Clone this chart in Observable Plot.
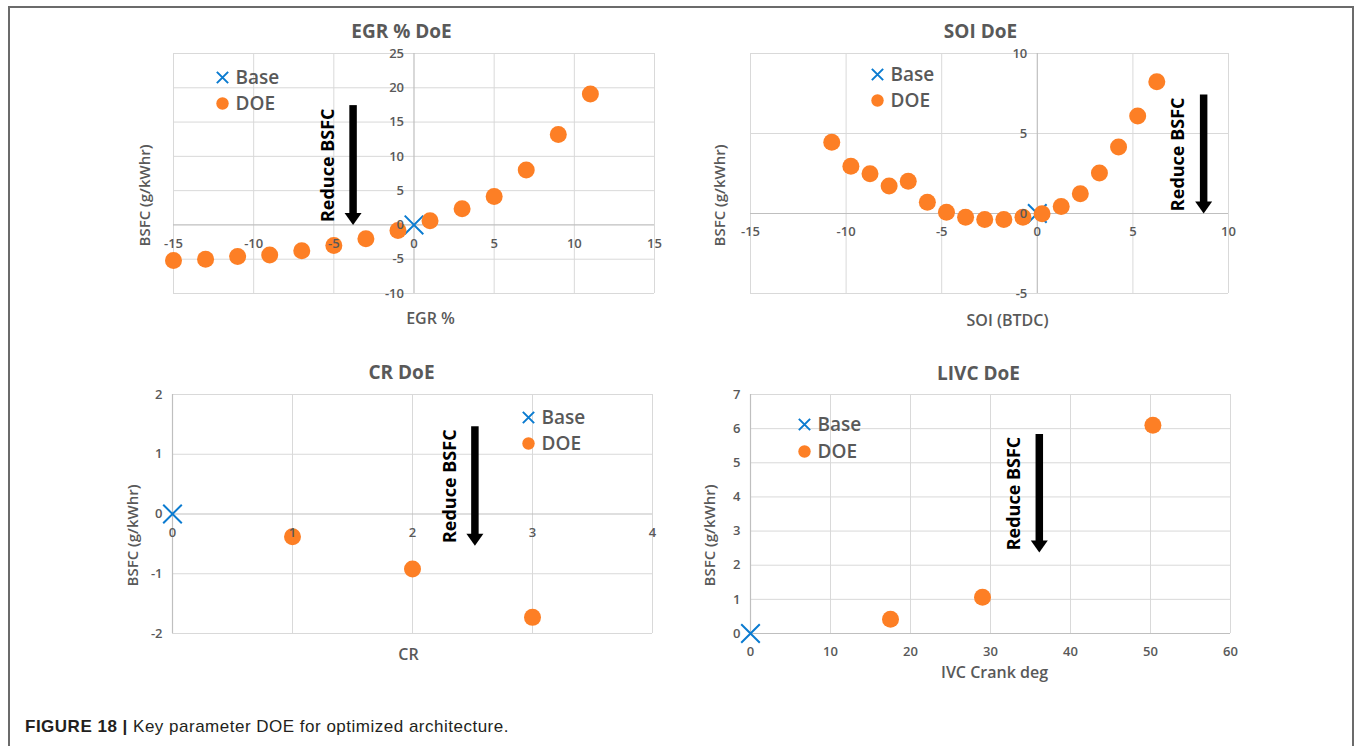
<!DOCTYPE html>
<html>
<head>
<meta charset="utf-8">
<script src="https://cdn.jsdelivr.net/npm/d3@7"></script>
<script src="https://cdn.jsdelivr.net/npm/@observablehq/plot@0.6"></script>
<style>
  html, body { margin: 0; padding: 0; background: #fff; }
  #wrap { position: relative; width: 1356px; height: 746px; overflow: hidden; background: #fff; }
  #frame { position: absolute; left: 8px; top: 6px; width: 1346px; height: 800px; box-sizing: border-box;
           border: 2px solid #6b6b6b; border-bottom: none; }
  .panel { position: absolute; }
  .panel svg { overflow: visible; }
  #caption { position: absolute; left: 25px; top: 717px; font-family: "Liberation Sans", Arial, sans-serif;
             font-size: 17px; line-height: 20px; color: #231f20; letter-spacing: 0.5px; white-space: nowrap; }
  #caption b { font-weight: bold; }
</style>
</head>
<body>
<div id="wrap">
  <div id="frame"></div>
  <div id="p1" class="panel" style="left:0px;top:0px"></div>
  <div id="p2" class="panel" style="left:678px;top:0px"></div>
  <div id="p3" class="panel" style="left:0px;top:340px"></div>
  <div id="p4" class="panel" style="left:678px;top:340px"></div>
  <div id="caption"><b>FIGURE 18 |</b> Key parameter DOE for optimized architecture.</div>
</div>
<script>
// ---------------- DATA ----------------
const egrTitle = "EGR % DoE", egrXLabel = "EGR %";
const egrX    = [-15, -13, -11, -9, -7, -5, -3, -1, 1, 3, 5, 7, 9, 11];
const egrBSFC = [-5.2, -5.0, -4.6, -4.4, -3.75, -3.0, -2.0, -0.8, 0.6, 2.35, 4.15, 8.0, 13.2, 19.1];
const egrXTicks = [-15, -10, -5, 0, 5, 10, 15];
const egrYTicks = [-10, -5, 0, 5, 10, 15, 20, 25];
const egrArrow = {x: -3.8, y1: 17.4, y2: 0};

const soiTitle = "SOI DoE", soiXLabel = "SOI (BTDC)";
const soiX    = [-10.75, -9.75, -8.75, -7.75, -6.75, -5.75, -4.75, -3.75, -2.75, -1.75, -0.75, 0.25, 1.25, 2.25, 3.25, 4.25, 5.25, 6.25];
const soiBSFC = [4.46, 2.95, 2.49, 1.72, 2.01, 0.71, 0.08, -0.23, -0.38, -0.38, -0.23, -0.02, 0.44, 1.23, 2.53, 4.16, 6.09, 8.24];
const soiXTicks = [-15, -10, -5, 0, 5, 10];
const soiYTicks = [-5, 0, 5, 10];
const soiArrow = {x: 8.7, y1: 7.4, y2: 0};

const crTitle = "CR DoE", crXLabel = "CR";
const crX    = [1, 2, 3];
const crBSFC = [-0.38, -0.92, -1.73];
const crXTicks = [0, 1, 2, 3, 4];
const crYTicks = [-2, -1, 0, 1, 2];
const crArrow = {x: 2.52, y1: 1.46, y2: -0.53};

const livcTitle = "LIVC DoE", livcXLabel = "IVC Crank deg";
const livcX    = [17.5, 29.0, 50.3];
const livcBSFC = [0.42, 1.06, 6.1];
const livcXTicks = [0, 10, 20, 30, 40, 50, 60];
const livcYTicks = [0, 1, 2, 3, 4, 5, 6, 7];
const livcArrow = {x: 36.1, y1: 5.83, y2: 2.37};

const baseX = [0], baseBSFC = [0];
const yLabel = "BSFC (g/kWhr)";
const arrowText = "Reduce BSFC";
const legendNames = ["Base", "DOE"];

// ---------------- STYLE ----------------
const GRID = "#d9d9d9", AXIS = "#bfbfbf", TXT = "#595959";
const ORANGE = "#fd7f25", BLUE = "#0b7bd0";
const FONT = '"Open Sans", sans-serif';

// custom downward arrow head (tip at origin)
const arrowHead = { draw(ctx) { ctx.moveTo(-8.5, -12); ctx.lineTo(8.5, -12); ctx.lineTo(0, 0); ctx.closePath(); } };

function chart(o) {
  const doe = o.xs.map((x, i) => ({x, y: o.ys[i]}));
  const base = baseX.map((x, i) => ({x, y: baseBSFC[i]}));
  const ar = [o.arrow];
  return Plot.plot({
    width: o.w, height: o.h,
    marginLeft: o.ml, marginRight: o.mr, marginTop: o.mt, marginBottom: o.mb,
    x: {domain: o.xd, axis: null},
    y: {domain: o.yd, axis: null},
    style: {fontFamily: FONT, background: "transparent", overflow: "visible"},
    marks: [
      // gridlines
      Plot.ruleX(o.xt.filter(v => v !== 0), {x: d => d, stroke: GRID, strokeWidth: 1}),
      Plot.ruleY(o.yt.filter(v => v !== 0), {y: d => d, stroke: GRID, strokeWidth: 1}),
      Plot.ruleX([0], {x: d => d, stroke: AXIS, strokeWidth: 1.2}),
      Plot.ruleY([0], {y: d => d, stroke: AXIS, strokeWidth: 1.2}),
      // titles
      Plot.text([o.title], {frameAnchor: "top", dx: o.tdx, dy: o.tdy, text: d => d, fill: TXT,
                            fontSize: 19, fontWeight: 700, lineAnchor: "middle"}),
      Plot.text([o.xlabel], {frameAnchor: "bottom", dx: o.xdx, dy: o.xdy, text: d => d, fill: TXT,
                             fontSize: 16, fontWeight: 600, lineAnchor: "middle"}),
      Plot.text([yLabel], {frameAnchor: "left", dx: o.ydx, dy: o.ydy, rotate: -90, text: d => d, fill: TXT,
                           fontSize: 15, fontWeight: 600, lineAnchor: "middle", textAnchor: "middle"}),
      // data
      Plot.dot(base, {x: "x", y: "y", symbol: "times", r: 8.5, stroke: BLUE, strokeWidth: 2}),
      Plot.dot(doe, {x: "x", y: "y", r: 8.5, fill: ORANGE, stroke: "none"}),
      // tick labels (Excel style: placed along the zero axes, drawn above the points)
      Plot.text(o.xt, {x: d => d, y: 0, dy: 18.5, text: d => String(d), fill: TXT,
                       fontSize: 13, fontWeight: 600, textAnchor: "middle", lineAnchor: "middle"}),
      Plot.text(o.yt, {x: 0, y: d => d, dx: -10, text: d => String(d), fill: TXT,
                       fontSize: 13, fontWeight: 600, textAnchor: "end", lineAnchor: "middle"}),
      // arrow annotation
      Plot.ruleX(ar, {x: "x", y1: "y1", y2: "y2", stroke: "black", strokeWidth: 7.5, insetBottom: 10}),
      Plot.dot(ar, {x: "x", y: "y2", symbol: arrowHead, r: 6, fill: "black", stroke: "none"}),
      Plot.text(ar, {x: "x", y: d => (d.y1 + d.y2) / 2, dx: -25, rotate: -90, text: () => arrowText,
                     fill: "black", fontSize: 18, fontWeight: 700, textAnchor: "middle", lineAnchor: "middle"}),
      // legend
      Plot.dot([0], {frameAnchor: "top-left", dx: o.lx, dy: o.ly, symbol: "times", r: 5.2, stroke: BLUE, strokeWidth: 2}),
      Plot.dot([0], {frameAnchor: "top-left", dx: o.lx, dy: o.ly + o.lgap, r: 6.2, fill: ORANGE}),
      Plot.text([legendNames[0]], {frameAnchor: "top-left", dx: o.lx + 13, dy: o.ly, text: d => d, fill: TXT,
                                   fontSize: 19, fontWeight: 600, textAnchor: "start", lineAnchor: "middle"}),
      Plot.text([legendNames[1]], {frameAnchor: "top-left", dx: o.lx + 13, dy: o.ly + o.lgap, text: d => d, fill: TXT,
                                   fontSize: 19, fontWeight: 600, textAnchor: "start", lineAnchor: "middle"})
    ]
  });
}

document.getElementById("p1").append(chart({
  xs: egrX, ys: egrBSFC, xd: [-15, 15], yd: [-10, 25], xt: egrXTicks, yt: egrYTicks, arrow: egrArrow,
  title: egrTitle, xlabel: egrXLabel,
  w: 678, h: 340, ml: 173, mr: 24, mt: 53, mb: 47,
  tdx: -12.5, tdy: -22, xdx: 16.5, xdy: 25, ydx: -28, ydy: 22,
  lx: 49, ly: 24, lgap: 26
}));
document.getElementById("p2").append(chart({
  xs: soiX, ys: soiBSFC, xd: [-15, 10], yd: [-5, 10], xt: soiXTicks, yt: soiYTicks, arrow: soiArrow,
  title: soiTitle, xlabel: soiXLabel,
  w: 678, h: 340, ml: 72, mr: 128, mt: 53, mb: 47,
  tdx: -9, tdy: -22, xdx: 18, xdy: 27, ydx: -30, ydy: 22,
  lx: 127, ly: 21, lgap: 26
}));
document.getElementById("p3").append(chart({
  xs: crX, ys: crBSFC, xd: [0, 4], yd: [-2, 2], xt: crXTicks, yt: crYTicks, arrow: crArrow,
  title: crTitle, xlabel: crXLabel,
  w: 678, h: 360, ml: 172, mr: 26, mt: 54, mb: 67,
  tdx: -11, tdy: -22, xdx: -4, xdy: 21, ydx: -39, ydy: 21.5,
  lx: 356, ly: 23, lgap: 26
}));
document.getElementById("p4").append(chart({
  xs: livcX, ys: livcBSFC, xd: [0, 60], yd: [0, 7], xt: livcXTicks, yt: livcYTicks, arrow: livcArrow,
  title: livcTitle, xlabel: livcXLabel,
  w: 678, h: 360, ml: 72, mr: 126, mt: 54, mb: 67,
  tdx: -12, tdy: -21, xdx: 4, xdy: 39, ydx: -40, ydy: 21.5,
  lx: 54, ly: 30, lgap: 27
}));
</script>
</body>
</html>
